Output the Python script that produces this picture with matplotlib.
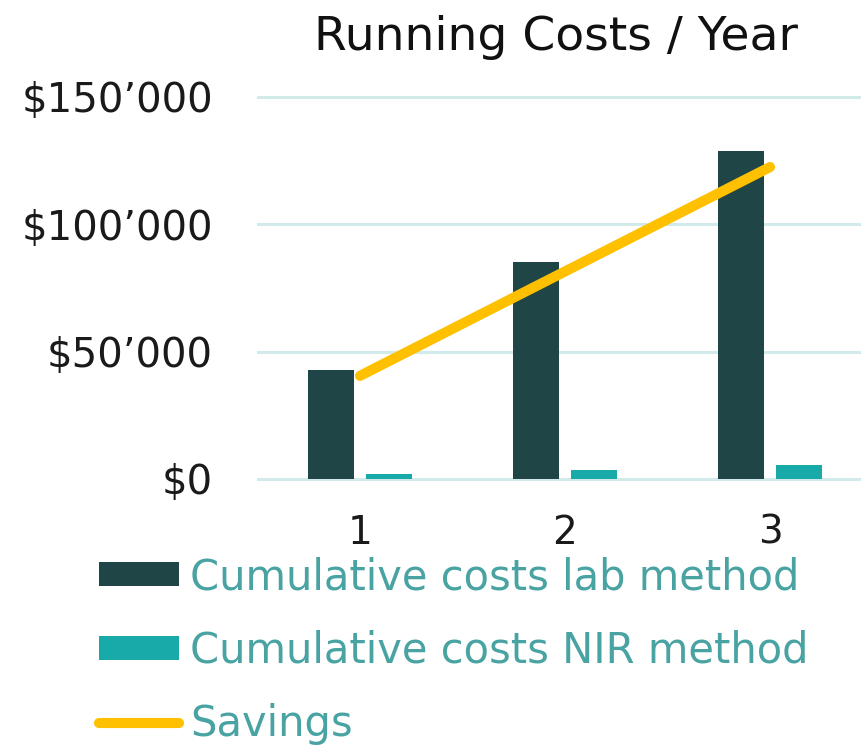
import matplotlib
matplotlib.use("Agg")
import matplotlib.pyplot as plt
from matplotlib.ticker import FuncFormatter, FixedLocator
from matplotlib.patches import Patch
from matplotlib.lines import Line2D
import numpy as np

# ---- data ----
years = ["1", "2", "3"]
lab_costs = [42800, 85400, 128800]
nir_costs = [1800, 3500, 5600]
savings = [40500, 81500, 122500]
yticks = [0, 50000, 100000, 150000]

title = "Running Costs / Year"
lab_label = "Cumulative costs lab method"
nir_label = "Cumulative costs NIR method"
sav_label = "Savings"

# ---- style ----
c_lab = "#1f4547"
c_nir = "#17aaa8"
c_sav = "#ffc000"
c_grid = "#d3eaea"
c_leg = "#4aa3a3"

W, H = 862, 751
fig = plt.figure(figsize=(W / 100, H / 100), dpi=100)

x0, x1 = 257.5, 872.5
ytop, ybot = 97, 479
ax = fig.add_axes([x0 / W, (H - ybot) / H, (x1 - x0) / W, (ybot - ytop) / H])

x = np.arange(1, len(years) + 1)
bw = 0.224
off = 0.1415
ax.bar(x - off, lab_costs, width=bw, color=c_lab, zorder=2)
ax.bar(x + off, nir_costs, width=bw, color=c_nir, zorder=2)
ax.plot(x, savings, color=c_sav, lw=7.3, solid_capstyle="round", zorder=3)

ax.set_xlim(0.5, 3.5)
ax.set_ylim(0, 150000)
ax.yaxis.set_major_locator(FixedLocator(yticks))
ax.yaxis.set_major_formatter(FuncFormatter(lambda v, p: "$" + f"{int(v):,}".replace(",", "\u2019")))
ax.set_xticks(x)
ax.set_xticklabels(years)

for s in ax.spines.values():
    s.set_visible(False)
ax.set_axisbelow(True)
ax.grid(axis="y", color=c_grid, lw=2.2, zorder=0)
for gl in ax.get_ygridlines():
    gl.set_clip_on(False)
ax.tick_params(axis="both", length=0, labelsize=28, colors="#1a1a1a")
ax.tick_params(axis="y", labelsize=29, pad=32)
ax.tick_params(axis="x", pad=25)

fig.text(556 / W, 1 - 38 / H, title, ha="center", va="center", fontsize=34, color="#111111")

handles = [
    Patch(facecolor=c_lab, edgecolor="none"),
    Patch(facecolor=c_nir, edgecolor="none"),
    Line2D([], [], color=c_sav, lw=7.3, solid_capstyle="round"),
]
leg = fig.legend(handles, [lab_label, nir_label, sav_label],
                 loc="upper left", bbox_to_anchor=(99 / W, 1 - 556 / H),
                 frameon=False, fontsize=30, handlelength=1.92,
                 handleheight=0.52, handletextpad=0.27, labelspacing=0.76,
                 borderaxespad=0, borderpad=0)
for t in leg.get_texts():
    t.set_color(c_leg)

fig.savefig("out.png", dpi=100)
